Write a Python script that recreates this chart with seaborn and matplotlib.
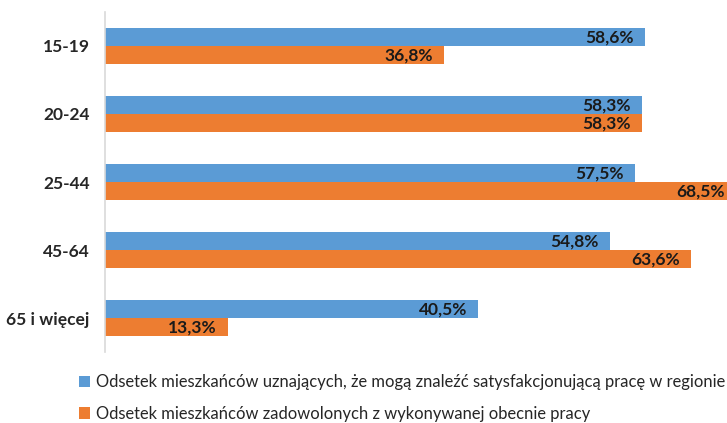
import pandas as pd
import numpy as np
import matplotlib
matplotlib.use("Agg")
import matplotlib.pyplot as plt
import seaborn as sns
from matplotlib.patches import Patch

# data
groups = ["15-19", "20-24", "25-44", "45-64", "65 i więcej"]
can_find_job = [58.6, 58.3, 57.5, 54.8, 40.5]
satisfied = [36.8, 58.3, 68.5, 63.6, 13.3]
series_names = [
    "Odsetek mieszkańców uznających, że mogą znaleźć satysfakcjonującą pracę w regionie",
    "Odsetek mieszkańców zadowolonych z wykonywanej obecnie pracy",
]
colors = ["#5B9BD5", "#ED7D31"]

df = pd.DataFrame({
    "grupa": groups * 2,
    "wartosc": can_find_job + satisfied,
    "seria": [series_names[0]] * len(groups) + [series_names[1]] * len(groups),
})

sns.set_style("white")
plt.rcParams['font.family'] = ['Lato', 'DejaVu Sans']

fig = plt.figure(figsize=(7.27, 4.23), dpi=100)
ax = fig.add_axes([105 / 727, 1 - 352 / 423, 645 / 727, 340 / 423])

sns.barplot(data=df, y="grupa", x="wartosc", hue="seria", orient="h",
            palette=colors, width=0.53, saturation=1, linewidth=0,
            ax=ax, legend=False)

ax.set_xlim(0, 70)
ax.set_ylim(4.5, -0.5)
ax.set_xlabel("")
ax.set_ylabel("")
ax.set_xticks([])
ax.tick_params(axis="y", length=0, pad=11)
for lbl in ax.get_yticklabels():
    lbl.set_fontweight("bold")
    lbl.set_fontsize(12.5)

for side in ["top", "right", "bottom"]:
    ax.spines[side].set_visible(False)
ax.spines["left"].set_color("#D9D9D9")
ax.spines["left"].set_linewidth(1.2)

# value labels inside the bar ends
for cont, vals in zip(ax.containers, [can_find_job, satisfied]):
    for bar, v in zip(cont, vals):
        ax.annotate(f"{v:.1f}%".replace(".", ","),
                    (bar.get_x() + bar.get_width(), bar.get_y() + bar.get_height() / 2),
                    xytext=(-8, -0.5), textcoords="offset points",
                    ha="right", va="center", fontsize=12.5, fontweight="bold",
                    color="#1a1a1a", annotation_clip=False)

handles = [Patch(facecolor=c, edgecolor="none") for c in colors]
fig.legend(handles, series_names, loc="upper left", bbox_to_anchor=(0.108, 0.115),
           frameon=False, fontsize=11.9, handlelength=0.7, handleheight=0.7,
           handletextpad=0.35, labelspacing=0.95, borderaxespad=0, borderpad=0)

fig.savefig("out.png", dpi=100)
